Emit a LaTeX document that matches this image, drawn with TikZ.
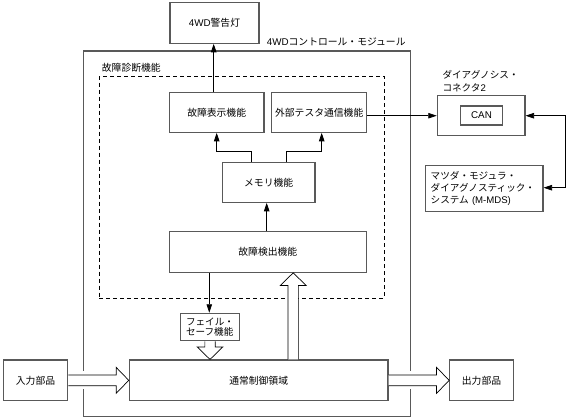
\documentclass[tikz,border=0pt]{standalone}
\usepackage{fontspec}
\setmainfont{Noto Sans CJK JP}
\newfontfamily\latfont{Liberation Sans}
\newcommand\lat[1]{{\latfont #1}}
\usetikzlibrary{arrows.meta,calc}
\definecolor{bline}{gray}{0.35}
\begin{document}
\begin{tikzpicture}[x=1pt,y=-1pt,
  every node/.style={font=\fontsize{9.8}{11.5}\selectfont, inner sep=0pt},
  box/.style={draw=bline, line width=1.1pt, fill=white, align=center},
  conn/.style={draw=black, line width=0.8pt},
  arr/.style={conn, -{Triangle[length=8.5pt,width=5.5pt]}},
  hollow/.style={draw=black, line width=0.7pt, fill=white, line join=miter},
]
\useasboundingbox (0,0) rectangle (569,419);

% containers
\node[draw=bline, line width=1.3pt, minimum width=327.4pt, minimum height=365.3pt] (module) at (247,233.65) {};
\node[anchor=west] (modlabel) at (266.7,41.7) {\lat{4WD}コントロール・モジュール};
\node[draw=black, line width=0.8pt, dash pattern=on 4pt off 3pt, minimum width=284.7pt, minimum height=222pt] (diag) at (241.65,187) {};
\node[anchor=west] (diaglabel) at (101.7,67.7) {故障診断機能};

% boxes
\node[box, minimum width=89pt, minimum height=40.6pt] (warn) at (214.5,23) {\lat{4WD}警告灯};
\node[box, minimum width=94.7pt, minimum height=39.6pt] (disp) at (216.65,112.5) {故障表示機能};
\node[box, minimum width=95pt, minimum height=39.6pt] (ext) at (319.2,112.5) {外部テスタ通信機能};
\node[box, minimum width=92.7pt, minimum height=40pt] (mem) at (268.65,182.3) {メモリ機能};
\node[box, minimum width=197pt, minimum height=40.6pt] (detect) at (267.8,252) {故障検出機能};
\node[box, minimum width=58.6pt, minimum height=27.4pt, align=left, font=\fontsize{9.6}{10.2}\selectfont] (fail) at (210,327) {フェイル・\\セーフ機能};
\node[box, minimum width=258.7pt, minimum height=40.7pt] (normal) at (258.65,380.35) {通常制御領域};
\node[box, minimum width=64.4pt, minimum height=40.7pt] (input) at (35.5,380.35) {入力部品};
\node[box, minimum width=63.6pt, minimum height=40.7pt] (output) at (481.5,380.35) {出力部品};
\node[box, minimum width=87.7pt, minimum height=40pt] (canout) at (481.15,115.7) {};
\node[box, minimum width=41.6pt, minimum height=19pt] (canin) at (481.5,115.5) {\lat{CAN}};
\node[anchor=west, align=left, font=\fontsize{9.6}{12.3}\selectfont] (conlabel) at (442.3,81.2) {ダイアグノシス・\\コネクタ\lat{2}};
\node[box, minimum height=45.6pt, text width=107.3pt, inner xsep=5pt, align=left, font=\fontsize{9.6}{11.7}\selectfont] (mazda) at (484.35,188.5) {マツダ・モジュラ・\\ダイアグノスティック・\\システム \lat{(M-MDS)}};

% hollow arrows
\path[fill=white] let \p1=(module.west |- input.east) in ({\x1-2.5pt},{\y1-9pt}) rectangle ({\x1+2.5pt},{\y1+9pt});
\path[fill=white] let \p1=(module.east |- output.west) in ({\x1-2.5pt},{\y1-9pt}) rectangle ({\x1+2.5pt},{\y1+9pt});
\draw[hollow] let \p1=(input.east), \p2=(normal.west) in
  (\x1,{\y1+5.3pt}) -- ({\x2-12.6pt},{\y1+5.3pt}) -- ({\x2-12.6pt},{\y1+13pt}) -- (\x2,\y1)
  -- ({\x2-12.6pt},{\y1-13pt}) -- ({\x2-12.6pt},{\y1-5.3pt}) -- (\x1,{\y1-5.3pt});
\draw[hollow] let \p1=(normal.east), \p2=(output.west) in
  (\x1,{\y1+5.3pt}) -- ({\x2-12.6pt},{\y1+5.3pt}) -- ({\x2-12.6pt},{\y1+13pt}) -- (\x2,\y1)
  -- ({\x2-12.6pt},{\y1-13pt}) -- ({\x2-12.6pt},{\y1-5.3pt}) -- (\x1,{\y1-5.3pt});
\draw[hollow] let \p1=(fail.south), \p2=(normal.north -| fail.south) in
  ({\x1-5.15pt},\y1) -- ({\x1-5.15pt},{\y2+12.4pt}) -- ({\x1-12.7pt},{\y2+12.4pt}) -- (\x2,\y2)
  -- ({\x1+12.7pt},{\y2+12.4pt}) -- ({\x1+5.15pt},{\y2+12.4pt}) -- ({\x1+5.15pt},\y1);
\coordinate (upx) at (293.2,0);
\draw[hollow] let \p1=(normal.north -| upx), \p2=(detect.south -| upx) in
  ({\x1-5.15pt},\y1) -- ({\x1-5.15pt},{\y2-12.7pt}) -- ({\x1-13pt},{\y2-12.7pt}) -- (\x2,\y2)
  -- ({\x1+13pt},{\y2-12.7pt}) -- ({\x1+5.15pt},{\y2-12.7pt}) -- ({\x1+5.15pt},\y1);

% connectors
\coordinate (xw) at (213.7,0);
\draw[arr] (disp.north -| xw) -- (warn.south -| xw);
\coordinate (m1) at (251.7,151);
\coordinate (m1t) at (216.7,151);
\draw[arr] (mem.north -| m1) -- (m1) -- (m1t) -- (disp.south -| m1t);
\coordinate (m2) at (286.7,151);
\coordinate (m2t) at (321.7,151);
\draw[arr] (mem.north -| m2) -- (m2) -- (m2t) -- (ext.south -| m2t);
\coordinate (dx) at (266.7,0);
\draw[arr] (detect.north -| dx) -- (mem.south -| dx);
\coordinate (fx) at (209.3,0);
\draw[arr] (detect.south -| fx) -- (fail.north -| fx);
\draw[arr] (ext.east |- canout.west) -- (canout.west);
\coordinate (rc) at (565,187.7);
\draw[conn, {Triangle[length=8.5pt,width=5.5pt]}-{Triangle[length=8.5pt,width=5.5pt]}] (canout.east) -| (rc) -- (mazda.east |- rc);
\end{tikzpicture}
\end{document}
